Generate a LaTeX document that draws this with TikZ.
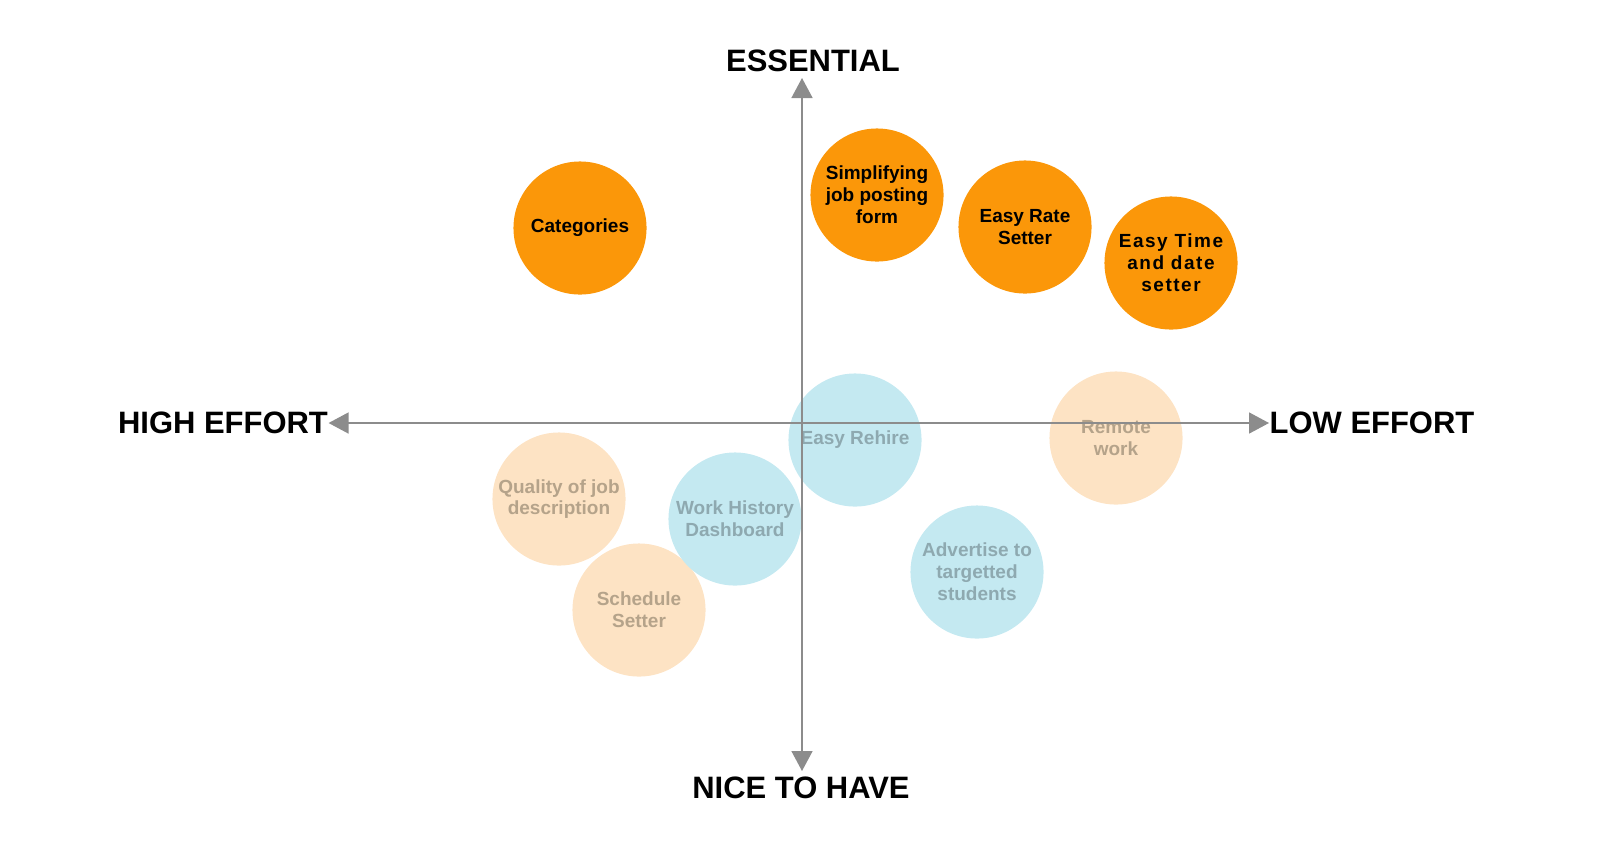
\documentclass[tikz,border=0pt]{standalone}
\usepackage{fontspec}
\setmainfont{Liberation Sans}
\newfontfamily\spacedfont[LetterSpace=8]{Liberation Sans}
\usetikzlibrary{arrows.meta, positioning}

\definecolor{axisgray}{HTML}{8C8C8C}
\definecolor{hotorange}{HTML}{FB9709}
\definecolor{paleorange}{HTML}{FDE3C4}
\definecolor{paleblue}{HTML}{C4E9F1}
\definecolor{orangetext}{HTML}{B5A38A}
\definecolor{bluetext}{HTML}{8EA9B0}

\begin{document}
\begin{tikzpicture}[x=0.01cm, y=-0.01cm, >={Triangle[width=0.21cm,length=0.2cm]},
  axislabel/.style={inner sep=0pt, font=\bfseries\fontsize{8.8}{10}\selectfont},
  bubble/.style={circle, minimum size=1.33cm, inner sep=0pt, align=center,
    font=\bfseries\fontsize{5.4}{6.2}\selectfont},
  essential/.style={bubble, fill=hotorange, text=black},
  lateorange/.style={bubble, fill=paleorange, text=orangetext},
  lateblue/.style={bubble, fill=paleblue, text=bluetext}]
  \useasboundingbox (0,0) rectangle (1600,863);
  % Axis labels
  \node[axislabel] (ess) at (813,61) {ESSENTIAL};
  \node[axislabel] (nice) at (801,788) {NICE TO HAVE};
  \node[axislabel] (high) at (223,423) {HIGH EFFORT};
  \node[axislabel] (low) at (1372,423) {LOW EFFORT};
  \coordinate (top) at (802,78);
  \coordinate (bottom) at (802,771);
  % Nice-to-have items (pale)
  \node[lateorange] (quality) at (559,499) {Quality of job\\description};
  \node[lateorange] (schedule) at (639,610) {Schedule\\Setter};
  \node[lateorange] (remote) at (1116,438) {Remote\\work};
  \node[lateblue] (history) at (735,519) {Work History\\Dashboard};
  \node[lateblue] (rehire) at (855,440) {Easy Rehire};
  \node[lateblue] (advertise) at (977,572) {Advertise to\\targetted\\students};
  % Axes
  \draw[<->, axisgray, line width=0.45pt] (high.east) -- (low.west);
  \draw[<->, axisgray, line width=0.45pt] (bottom) -- (top);
  % Essential items
  \node[essential] (categories) at (580,228) {Categories};
  \node[essential] (simplify) at (877,195) {Simplifying\\job posting\\form};
  \node[essential] (rate) at (1025,227) {Easy Rate\\Setter};
  \node[essential, font=\spacedfont\bfseries\fontsize{5.4}{6.2}\selectfont] (timedate) at (1171,263) {Easy Time\\and date\\setter};
\end{tikzpicture}
\end{document}
